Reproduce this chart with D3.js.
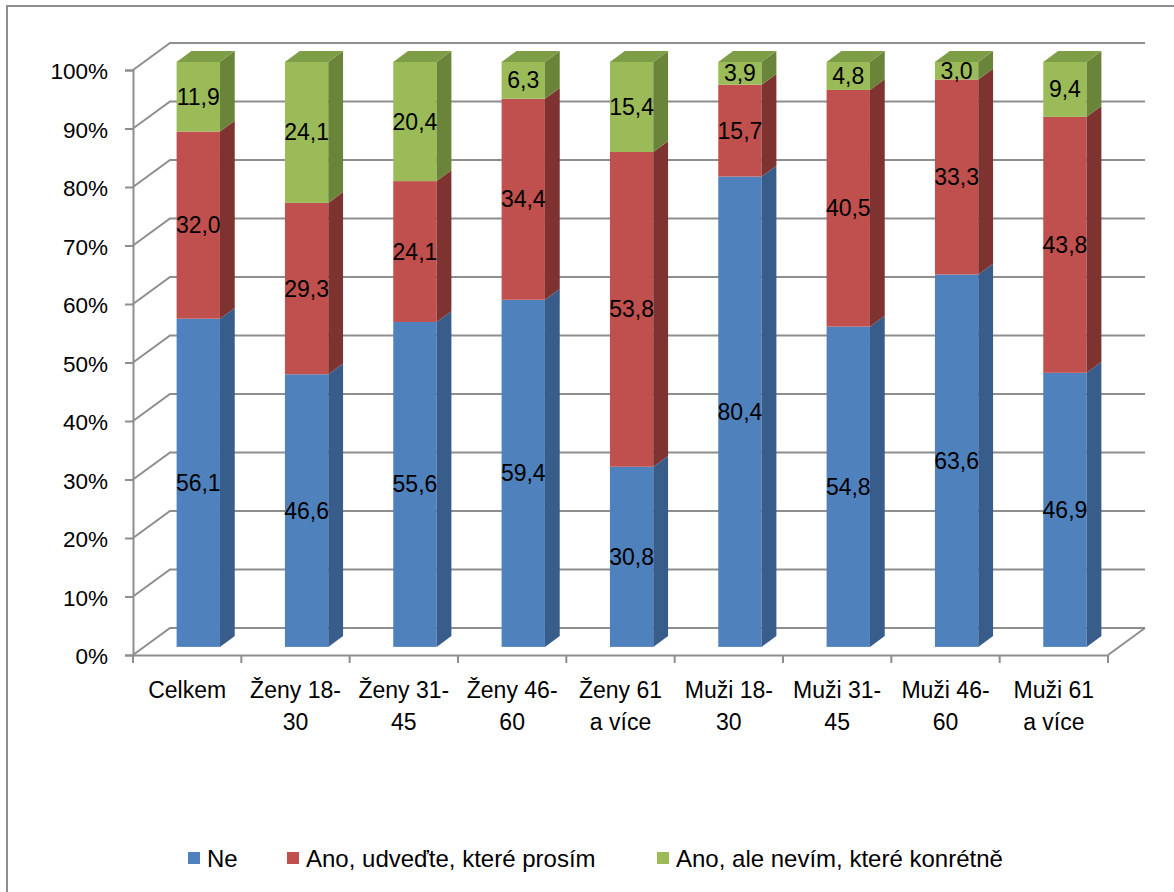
<!DOCTYPE html>
<html>
<head>
<meta charset="utf-8">
<script src="https://cdn.jsdelivr.net/npm/d3@7"></script>
<style>
  html, body { margin: 0; padding: 0; background: #fff; }
  svg { display: block; }
  text { font-family: "Liberation Sans", Arial, sans-serif; fill: #000; }
</style>
</head>
<body>
<svg id="chart" width="1174" height="892"></svg>
<script>
// Category labels (each entry is the list of wrapped lines)
const categories = [
  ["Celkem"],
  ["Ženy 18-", "30"],
  ["Ženy 31-", "45"],
  ["Ženy 46-", "60"],
  ["Ženy 61", "a více"],
  ["Muži 18-", "30"],
  ["Muži 31-", "45"],
  ["Muži 46-", "60"],
  ["Muži 61", "a více"]
];

const seriesNames = ["Ne", "Ano, udveďte, které prosím", "Ano, ale nevím, které konrétně"];

// Percent shares per category
const ne       = [56.1, 46.6, 55.6, 59.4, 30.8, 80.4, 54.8, 63.6, 46.9];
const anoKtere = [32.0, 29.3, 24.1, 34.4, 53.8, 15.7, 40.5, 33.3, 43.8];
const anoNevim = [11.9, 24.1, 20.4,  6.3, 15.4,  3.9,  4.8,  3.0,  9.4];

const yTickValues = [0, 0.1, 0.2, 0.3, 0.4, 0.5, 0.6, 0.7, 0.8, 0.9, 1.0];

// Colours: front face, side face, top face
const frontColors = ["#4F81BD", "#C0504D", "#9BBB59"];
const sideColors  = ["#385D8A", "#7E3331", "#6A853A"];
const topColors   = ["#3F6796", "#913B38", "#7E9D47"];
const gridColor = "#8E8E8E";

const svg = d3.select("#chart");

// Plot geometry: front plane plus an oblique depth vector
const plotLeft = 133, plotRight = 1108, plotBottom = 655, plotTop = 70;
const depth = { dx: 37, dy: -27 };
const zFront = 0.3, zBack = 0.7;

const x = d3.scaleBand().domain(d3.range(categories.length)).range([plotLeft, plotRight]);
const y = d3.scaleLinear().domain([0, 1]).range([plotBottom, plotTop]);
const barW = x.bandwidth() * 0.4;

const P = (px, v, z) => [px + z * depth.dx, y(v) + z * depth.dy];
const pts = arr => arr.map(p => p.join(",")).join(" ");

// Chart area border
svg.append("rect")
  .attr("x", 7).attr("y", 6).attr("width", 1200).attr("height", 920)
  .attr("fill", "none").attr("stroke", gridColor).attr("stroke-width", 2);

// Walls: side-wall diagonals and back-wall gridlines
const grid = svg.append("g").attr("stroke", gridColor).attr("stroke-width", 2).attr("fill", "none");
yTickValues.forEach(v => {
  const a = P(plotLeft, v, 0), b = P(plotLeft, v, 1), c = P(plotRight, v, 1);
  grid.append("polyline").attr("points", pts([a, b, c]));
});
// Floor right edge
grid.append("line")
  .attr("x1", plotRight).attr("y1", y(0))
  .attr("x2", P(plotRight, 0, 1)[0]).attr("y2", P(plotRight, 0, 1)[1]);

// Axes on the front plane
const yAxis = svg.append("g").attr("transform", `translate(${plotLeft},0)`)
  .call(d3.axisLeft(y).tickValues(yTickValues).tickFormat(d3.format(".0%")).tickSize(8).tickPadding(17));
const xAxis = svg.append("g").attr("transform", `translate(0,${plotBottom})`)
  .call(d3.axisBottom(x).tickSize(0).tickFormat(""));
[yAxis, xAxis].forEach(g => {
  g.select(".domain").attr("stroke", gridColor).attr("stroke-width", 2);
  g.selectAll(".tick line").attr("stroke", gridColor).attr("stroke-width", 2);
});
yAxis.selectAll(".tick text")
  .style("font-family", '"Liberation Sans", Arial, sans-serif')
  .style("font-size", "22.5px").attr("fill", "#000")
  .attr("dy", "0.38em");

// Category boundary ticks
const bounds = d3.range(categories.length + 1).map(i => i < categories.length ? x(i) : plotRight);
svg.append("g").selectAll("line").data(bounds).join("line")
  .attr("x1", d => d).attr("x2", d => d)
  .attr("y1", plotBottom).attr("y2", plotBottom + 8)
  .attr("stroke", gridColor).attr("stroke-width", 2);

// Category labels
const catG = svg.append("g");
categories.forEach((lines, i) => {
  const t = catG.append("text")
    .attr("x", x(i) + x.bandwidth() / 2)
    .attr("y", 698)
    .attr("text-anchor", "middle")
    .style("font-size", "23px");
  lines.forEach((ln, k) => {
    t.append("tspan").attr("x", x(i) + x.bandwidth() / 2).attr("dy", k === 0 ? 0 : 32).text(ln);
  });
});

// Stacked data (100% stacked)
const rows = categories.map((c, i) => ({ i, s0: ne[i], s1: anoKtere[i], s2: anoNevim[i] }));
const stack = d3.stack().keys(["s0", "s1", "s2"]).offset(d3.stackOffsetExpand);
const layers = stack(rows);

const fmt = v => d3.format(".1f")(v).replace(".", ",");
const seriesVals = [ne, anoKtere, anoNevim];

const bars = svg.append("g");
rows.forEach((r, i) => {
  const cx = x(i) + x.bandwidth() / 2;
  const l = cx - barW / 2, rr = cx + barW / 2;
  const g = bars.append("g");
  layers.forEach((layer, s) => {
    const [v0, v1] = layer[i];
    const f0 = P(l, v1, zFront), f1 = P(rr, v0, zFront);
    g.append("rect")
      .attr("x", f0[0]).attr("y", f0[1])
      .attr("width", f1[0] - f0[0]).attr("height", f1[1] - f0[1])
      .attr("fill", frontColors[s]);
    g.append("polygon")
      .attr("points", pts([P(rr, v0, zFront), P(rr, v0, zBack), P(rr, v1, zBack), P(rr, v1, zFront)]))
      .attr("fill", sideColors[s]);
    if (s === layers.length - 1) {
      g.append("polygon")
        .attr("points", pts([P(l, v1, zFront), P(l, v1, zBack), P(rr, v1, zBack), P(rr, v1, zFront)]))
        .attr("fill", topColors[s]);
    }
  });
  // Value labels centred on each segment's front face
  layers.forEach((layer, s) => {
    const [v0, v1] = layer[i];
    const c = P(cx, (v0 + v1) / 2, zFront);
    g.append("text")
      .attr("x", c[0]).attr("y", c[1])
      .attr("text-anchor", "middle")
      .attr("dominant-baseline", "central")
      .style("font-size", "23px")
      .text(fmt(seriesVals[s][i]));
  });
});

// Legend
const legendX = [188, 287, 657];
const legend = svg.append("g");
seriesNames.forEach((name, s) => {
  legend.append("rect")
    .attr("x", legendX[s]).attr("y", 852).attr("width", 12).attr("height", 12)
    .attr("fill", frontColors[s]);
  legend.append("text")
    .attr("x", legendX[s] + 19).attr("y", 858)
    .attr("dominant-baseline", "central")
    .style("font-size", "24px")
    .text(name);
});
</script>
</body>
</html>
